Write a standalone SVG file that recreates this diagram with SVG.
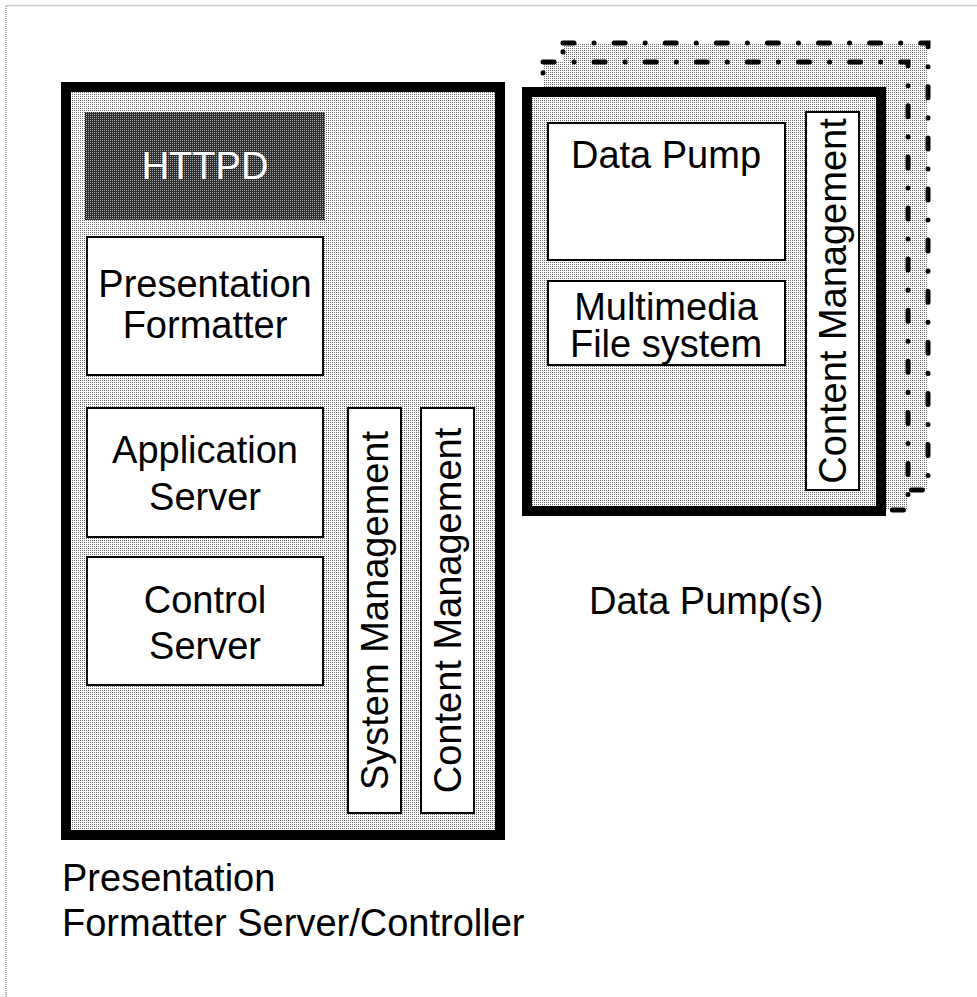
<svg xmlns="http://www.w3.org/2000/svg" width="977" height="997" viewBox="0 0 977 997">
<defs>
<pattern id="lt" width="2" height="2" patternUnits="userSpaceOnUse"><rect width="2" height="2" fill="#ffffff"/><rect width="1" height="1" fill="#6a6a6a"/></pattern>
<pattern id="dk" width="2" height="2" patternUnits="userSpaceOnUse"><rect width="2" height="2" fill="#2e2e2e"/><rect width="1" height="1" fill="#a8a8a8"/></pattern>
</defs>
<style>
text{font-family:"Liberation Sans",Arial,Helvetica,sans-serif;font-size:38px;fill:#000}
.c{text-anchor:middle}
.box{fill:#fff;stroke:#000;stroke-width:2}
.frame{fill:url(#lt);stroke:#000;stroke-width:10}
.shadow{fill:url(#lt);stroke:#000;stroke-width:5;stroke-linecap:round;stroke-dasharray:11 20 0.1 20}
.page{fill:none;stroke:#9a9a9a;stroke-width:1.5;stroke-dasharray:1 1}
</style>
<path class="page" d="M6 997 V5.5 H977"/>

<g id="pfs">
<rect class="frame" x="66" y="87" width="434" height="748"/>
<g id="httpd"><rect x="85" y="112" width="240" height="108" fill="url(#dk)"/><text class="c" x="205" y="179" style="fill:#fff">HTTPD</text></g>
<g id="presfmt"><rect class="box" x="87" y="237" width="236" height="138"/><text class="c" x="205" y="297">Presentation</text><text class="c" x="205" y="338">Formatter</text></g>
<g id="appsrv"><rect class="box" x="87" y="408" width="236" height="129"/><text class="c" x="205" y="463">Application</text><text class="c" x="205" y="510">Server</text></g>
<g id="ctlsrv"><rect class="box" x="87" y="557" width="236" height="128"/><text class="c" x="205" y="613">Control</text><text class="c" x="205" y="659">Server</text></g>
<g id="sysmgmt"><rect class="box" x="348" y="408" width="53" height="405"/><text class="c" transform="translate(374.5 610.5) rotate(-90)" x="0" y="13">System Management</text></g>
<g id="contmgmt1"><rect class="box" x="421" y="408" width="53" height="405"/><text class="c" transform="translate(447.5 610.5) rotate(-90)" x="0" y="13">Content Management</text></g>
</g>
<text x="62" y="891">Presentation</text>
<text x="62" y="936">Formatter Server/Controller</text>

<g id="dps">
<rect class="shadow" x="563" y="43" width="365" height="447"/>
<rect class="shadow" x="543" y="62" width="365" height="448"/>
<rect class="frame" x="527" y="92" width="354" height="419"/>
<g id="datapump"><rect class="box" x="548" y="123" width="237" height="137"/><text class="c" x="666" y="168">Data Pump</text></g>
<g id="mmfs"><rect class="box" x="548" y="281" width="237" height="84"/><text class="c" x="666" y="320">Multimedia</text><text class="c" x="666" y="357">File system</text></g>
<g id="contmgmt2"><rect class="box" x="806" y="112" width="53" height="378"/><text class="c" transform="translate(832.5 301) rotate(-90)" x="0" y="13">Content Management</text></g>
</g>
<text x="589" y="614">Data Pump(s)</text>
</svg>
